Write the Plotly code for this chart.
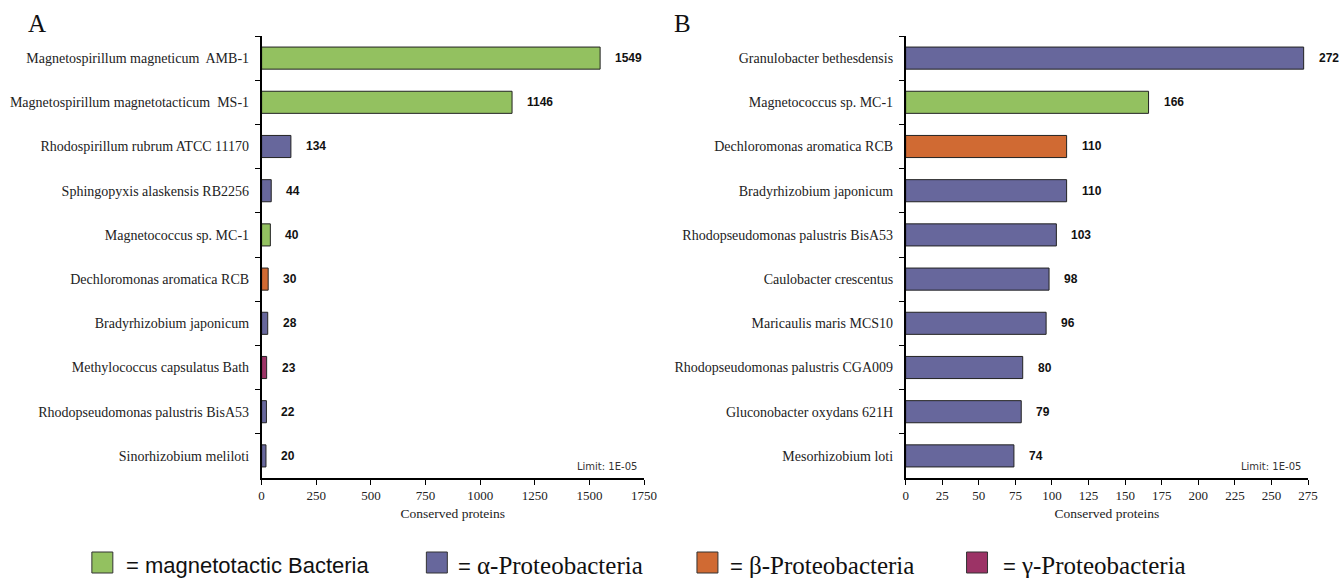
import plotly.graph_objects as go

# ---------------- data ----------------
species_a = [
    "Magnetospirillum magneticum  AMB-1",
    "Magnetospirillum magnetotacticum  MS-1",
    "Rhodospirillum rubrum ATCC 11170",
    "Sphingopyxis alaskensis RB2256",
    "Magnetococcus sp. MC-1",
    "Dechloromonas aromatica RCB",
    "Bradyrhizobium japonicum",
    "Methylococcus capsulatus Bath",
    "Rhodopseudomonas palustris BisA53",
    "Sinorhizobium meliloti",
]
values_a = [1549, 1146, 134, 44, 40, 30, 28, 23, 22, 20]
groups_a = ["mag", "mag", "alpha", "alpha", "mag", "beta", "alpha", "gamma", "alpha", "alpha"]

species_b = [
    "Granulobacter bethesdensis",
    "Magnetococcus sp. MC-1",
    "Dechloromonas aromatica RCB",
    "Bradyrhizobium japonicum",
    "Rhodopseudomonas palustris BisA53",
    "Caulobacter crescentus",
    "Maricaulis maris MCS10",
    "Rhodopseudomonas palustris CGA009",
    "Gluconobacter oxydans 621H",
    "Mesorhizobium loti",
]
values_b = [272, 166, 110, 110, 103, 98, 96, 80, 79, 74]
groups_b = ["alpha", "mag", "beta", "alpha", "alpha", "alpha", "alpha", "alpha", "alpha", "alpha"]

ticks_a = [0, 250, 500, 750, 1000, 1250, 1500, 1750]
ticks_b = [0, 25, 50, 75, 100, 125, 150, 175, 200, 225, 250, 275]

legend_keys = ["mag", "alpha", "beta", "gamma"]
legend_prefix = ["= ", "= ", "= ", "= "]
legend_labels = ["magnetotactic Bacteria", "α-Proteobacteria", "β-Proteobacteria", "γ-Proteobacteria"]

axis_title = "Conserved proteins"
limit_text = "Limit: 1E-05"
panel_letters = ["A", "B"]

colors = {"mag": "#93C160", "alpha": "#67679C", "beta": "#D06A33", "gamma": "#9C3366"}

# ---------------- figure ----------------
REF_W, REF_H = 1339, 578
W, H = 1353, 578   # the captured viewport is slightly wider than the target picture
SERIF = "Liberation Serif, Times New Roman, serif"
SANS = "Liberation Sans, Arial, sans-serif"

def px_x(p):
    return p / REF_W

def px_y(p):
    return 1 - p / REF_H

fig = go.Figure()

fig.add_trace(go.Bar(
    x=values_a, y=species_a, orientation="h",
    marker=dict(color=[colors[g] for g in groups_a], line=dict(color="#222222", width=1)),
    xaxis="x", yaxis="y", showlegend=False, hoverinfo="x+y",
))
fig.add_trace(go.Bar(
    x=values_b, y=species_b, orientation="h",
    marker=dict(color=[colors[g] for g in groups_b], line=dict(color="#222222", width=1)),
    xaxis="x2", yaxis="y2", showlegend=False, hoverinfo="x+y",
))

ydom = [px_y(478), px_y(36)]

common_x = dict(
    showline=True, linecolor="black", linewidth=1.5,
    ticks="outside", ticklen=5, tickwidth=1.2, tickcolor="black",
    showgrid=False, zeroline=False,
    tickfont=dict(family=SERIF, size=13, color="#222"),
    title=dict(text=axis_title, font=dict(family=SERIF, size=13.5, color="#222"), standoff=6),
)
common_y = dict(
    type="category", autorange="reversed",
    showline=True, linecolor="black", linewidth=1.5,
    ticks="outside", ticklen=5, tickwidth=1.2, tickcolor="black",
    tickson="boundaries", showgrid=False, zeroline=False,
    ticklabelstandoff=8,
    tickfont=dict(family=SERIF, size=14, color="#222"),
)

fig.update_layout(
    width=W, height=H,
    margin=dict(l=0, r=0, t=0, b=0),
    paper_bgcolor="white", plot_bgcolor="white",
    bargap=0.5,
    xaxis=dict(domain=[px_x(259), px_x(642)], range=[0, 1750], tickvals=ticks_a,
               anchor="y", **common_x),
    yaxis=dict(domain=ydom, anchor="x", **common_y),
    xaxis2=dict(domain=[px_x(904), px_x(1307)], range=[0, 275], tickvals=ticks_b,
                anchor="y2", **common_x),
    yaxis2=dict(domain=ydom, anchor="x2", **common_y),
)

annotations = []
# value labels
for ys, vs, xr, yr in [(species_a, values_a, "x", "y"),
                       (species_b, values_b, "x2", "y2")]:
    for v, s in zip(vs, ys):
        annotations.append(dict(
            x=v, y=s, xref=xr, yref=yr, text="<b>" + str(v) + "</b>", showarrow=False,
            xanchor="left", xshift=13,
            font=dict(family=SANS, size=12, color="#111"),
        ))
# limit text
for xr, yr in [("x domain", "y domain"), ("x2 domain", "y2 domain")]:
    annotations.append(dict(
        x=1, y=0, xref=xr, yref=yr, text=limit_text, showarrow=False,
        xanchor="right", yanchor="bottom", xshift=-5, yshift=4,
        font=dict(family="DejaVu Sans, sans-serif", size=10, color="#333"),
    ))
# panel letters
for letter, xp in zip(panel_letters, [34, 681]):
    annotations.append(dict(
        x=px_x(xp), y=px_y(23), xref="paper", yref="paper", text=letter,
        showarrow=False, xanchor="center", yanchor="middle",
        font=dict(family=SERIF, size=25, color="#111"),
    ))

# legend (squares + text)
legend_sq_x = [89, 424, 695, 965]
legend_tx_x = [121, 454, 726, 999]
shapes = []
for key, sx, tx, pre, lab in zip(legend_keys, legend_sq_x, legend_tx_x, legend_prefix, legend_labels):
    shapes.append(dict(
        type="rect", xref="paper", yref="paper",
        x0=px_x(sx), x1=px_x(sx + 21), y0=px_y(573), y1=px_y(552),
        fillcolor=colors[key], line=dict(color="#333", width=1),
    ))
    if key == "mag":
        txt = pre + lab
    else:
        txt = (pre + '<span style="font-family:Liberation Serif, Times New Roman, serif;'
               'font-size:25px">' + lab + "</span>")
    annotations.append(dict(
        x=px_x(tx), y=px_y(565), xref="paper", yref="paper", text=txt,
        showarrow=False, xanchor="left", yanchor="middle",
        font=dict(family=SANS, size=22, color="#111"),
    ))

fig.update_layout(annotations=annotations, shapes=shapes)

fig.write_html(
    "out.html",
    config={"displayModeBar": False},
    post_script="document.documentElement.style.margin='0';document.body.style.margin='0';"
                "document.documentElement.style.overflow='hidden';document.body.style.overflow='hidden';",
)
